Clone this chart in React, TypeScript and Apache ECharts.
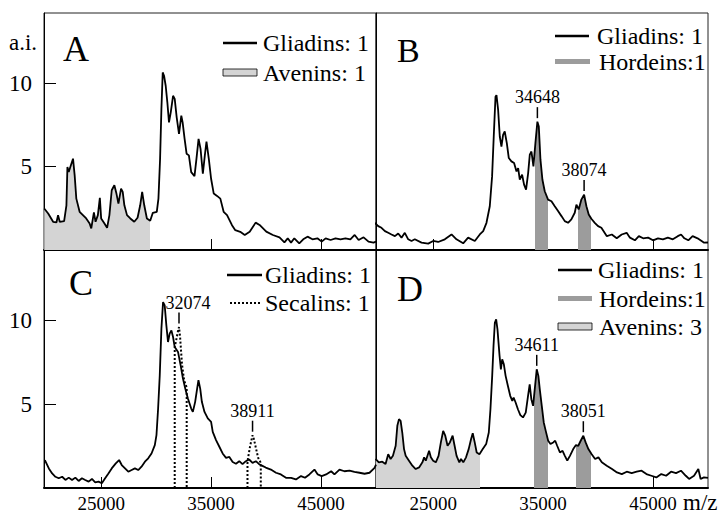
import { useEffect, useRef } from "react";
import * as echarts from "echarts";

const FONT = "serif";
const X_MIN = 19800;
const X_MAX = 50000;
const Y_MIN = 0;
const Y_MAX = 14.2;
const xTickValues = [25000, 35000, 45000];
const yTickValues = [5, 10];

// Panel A – Gliadins: 1 (m/z, a.i.)
const gliadinsA: [number, number][] = [
  [19820, 2.49], [20180, 2.19], [20630, 1.69], [20930, 1.65], [21080, 2.09], [21230, 1.69], [21630, 1.73],
  [21840, 2.68], [21930, 4.97], [22050, 4.67], [22290, 5.17], [22440, 5.47], [22590, 4.47], [22740, 3.08],
  [23040, 2.29], [23340, 2.09], [23640, 1.89], [23950, 1.59], [24100, 1.29], [24340, 2.25], [24490, 1.69],
  [24700, 2.09], [24880, 3.12], [25000, 1.89], [25300, 1.59], [25540, 1.33], [25750, 2.09], [25960, 3.58],
  [26200, 3.88], [26390, 3.38], [26570, 2.78], [26810, 3.68], [26960, 3.48], [27110, 2.68], [27350, 2.09],
  [27650, 1.89], [28010, 1.69], [28310, 1.93], [28550, 2.68], [28730, 3.48], [28920, 2.68], [29160, 1.89],
  [29460, 1.75], [29700, 2.23], [30060, 2.29], [30210, 3.08], [30360, 5.47], [30480, 8.45], [30600, 10.64],
  [30720, 10.44], [30870, 9.84], [31020, 8.85], [31170, 7.65], [31330, 8.25], [31540, 9.24], [31690, 9.05],
  [31870, 7.95], [32080, 6.96], [32290, 8.05], [32410, 7.65], [32590, 6.66], [32770, 5.77], [32980, 5.67],
  [33190, 4.67], [33490, 4.43], [33670, 5.47], [33860, 6.66], [34040, 6.06], [34250, 4.57], [34430, 5.67],
  [34580, 6.5], [34790, 5.47], [35000, 4.27], [35240, 3.38], [35540, 3.24], [35840, 3.08], [36140, 2.29],
  [36450, 2.09], [36900, 1.49], [37200, 1.19], [37650, 1.09], [38060, 0.9], [38510, 1.1], [39050, 1.64],
  [39410, 1.5], [40020, 1.1], [40620, 0.9], [41220, 0.76], [41670, 0.46], [41970, 0.7], [42270, 0.44],
  [42570, 0.7], [43020, 0.4], [43380, 0.64], [43770, 0.8], [44220, 0.64], [44670, 0.7], [45060, 0.5],
  [45420, 0.7], [45870, 0.6], [46320, 0.7], [46770, 0.64], [47220, 0.7], [47670, 0.64], [48060, 0.9],
  [48420, 0.6], [48870, 0.76], [49320, 0.5], [49770, 0.44], [50000, 0.5],
];

// Panel B – Gliadins: 1
const gliadinsB: [number, number][] = [
  [19700, 1.63], [20000, 1.43], [20300, 1.33], [20610, 1.13], [20910, 1.03], [21210, 0.93], [21520, 0.83],
  [21820, 0.99], [22120, 0.74], [22420, 1.03], [22730, 0.64], [23030, 0.54], [23330, 0.64], [23940, 0.44],
  [24550, 0.38], [25000, 0.54], [25450, 0.48], [26060, 0.64], [26670, 0.93], [27120, 0.64], [27730, 0.4],
  [28180, 0.74], [28790, 0.54], [29240, 0.93], [29550, 1.13], [29850, 1.63], [30150, 2.62], [30360, 4.41],
  [30510, 6.8], [30670, 9.18], [30760, 9.28], [30910, 8.39], [31060, 6.8], [31210, 6.2], [31360, 6.9],
  [31510, 7.1], [31700, 6.4], [31880, 5.51], [32120, 5.31], [32360, 5.21], [32580, 4.71], [32730, 4.91],
  [32880, 4.21], [33090, 4.51], [33270, 3.92], [33450, 3.62], [33640, 4.61], [33790, 5.71], [33940, 5.9],
  [34120, 5.01], [34300, 6.4], [34480, 7.69], [34610, 7.4], [34760, 5.41], [34940, 4.21], [35150, 3.52],
  [35450, 3.02], [35760, 2.92], [36060, 2.62], [36360, 2.33], [36670, 2.03], [36970, 1.73], [37270, 1.63],
  [37570, 1.83], [37880, 2.23], [38030, 2.72], [38240, 2.43], [38480, 3.02], [38730, 3.32], [38940, 2.62],
  [39150, 2.13], [39390, 1.87], [39700, 1.63], [40000, 1.43], [40300, 1.33], [40800, 0.83], [41250, 0.93],
  [41700, 0.7], [42150, 0.93], [42600, 1.03], [42900, 0.74], [43350, 0.58], [43710, 0.83], [44100, 0.7],
  [44550, 0.74], [45000, 0.58], [45450, 0.7], [45900, 0.64], [46350, 0.74], [46800, 0.64], [47250, 0.83],
  [47550, 0.93], [47850, 0.7], [48210, 0.58], [48600, 0.83], [49050, 0.7], [49650, 0.44], [50000, 0.45],
];

// Panel C – Gliadins: 1
const gliadinsC: [number, number][] = [
  [19880, 1.67], [20240, 1.17], [20540, 0.87], [20840, 0.67], [21140, 0.58], [21450, 0.67], [21750, 0.48],
  [22050, 0.62], [22350, 0.48], [22650, 0.62], [22950, 0.42], [23250, 0.58], [23550, 0.48], [23860, 0.38],
  [24160, 0.54], [24460, 0.34], [24760, 0.38], [25060, 0.28], [25360, 0.58], [25660, 0.87], [25960, 1.17],
  [26330, 1.47], [26630, 1.67], [26870, 1.37], [27170, 1.17], [27470, 0.97], [27770, 1.07], [28070, 1.17],
  [28370, 1.07], [28670, 1.27], [28980, 1.57], [29280, 1.77], [29580, 2.06], [29880, 2.56], [30030, 3.15],
  [30180, 4.74], [30330, 6.73], [30480, 9.5], [30630, 11.09], [30780, 10.89], [30930, 9.7], [31080, 8.71],
  [31230, 9.21], [31390, 9.4], [31540, 9.01], [31690, 8.41], [31990, 8.12], [32230, 7.32], [32440, 6.53],
  [32650, 5.93], [32890, 5.34], [33190, 4.74], [33340, 4.54], [33550, 5.14], [33730, 5.93], [33850, 6.43],
  [34010, 5.93], [34160, 5.14], [34400, 4.54], [34700, 4.15], [35000, 3.95], [35150, 3.35], [35450, 2.86],
  [35750, 2.46], [36050, 2.06], [36360, 1.8], [36660, 1.85], [36960, 1.55], [37260, 1.45], [37560, 1.6],
  [37860, 1.42], [38160, 1.6], [38460, 1.7], [38770, 1.5], [39070, 1.6], [39370, 1.42], [39670, 1.32],
  [39970, 1.22], [40440, 1.1], [40900, 0.91], [41350, 0.81], [41810, 0.61], [42270, 0.61], [42720, 0.51],
  [43180, 0.71], [43540, 0.61], [43940, 0.81], [44400, 1.1], [44700, 0.81], [45060, 0.71], [45460, 0.81],
  [45920, 1.0], [46220, 0.81], [46680, 1.1], [47130, 1.0], [47590, 1.04], [48040, 0.96], [48500, 0.91],
  [48960, 0.85], [49410, 0.91], [49870, 1.2], [50000, 1.4],
];

// Panel C – Secalins: 1 (dotted outlined windows)
const secalinsC1: [number, number][] = [
  [31690, 0], [31690, 8.4], [31850, 8.9], [32000, 9.4], [32080, 9.6], [32180, 9.0], [32350, 7.4],
  [32550, 6.4], [32780, 6.0], [32780, 0], [31690, 0],
];
const secalinsC2: [number, number][] = [
  [38310, 0], [38310, 1.6], [38550, 2.5], [38770, 3.15], [38900, 2.9], [39070, 2.4], [39280, 1.8],
  [39520, 1.5], [39520, 0], [38310, 0],
];

// Panel D – Gliadins: 1
const gliadinsD: [number, number][] = [
  [19760, 1.73], [20060, 1.53], [20370, 1.57], [20670, 1.43], [20910, 2.02], [21130, 1.73], [21340, 1.92],
  [21590, 2.52], [21740, 3.71], [21890, 4.11], [22040, 4.01], [22190, 3.31], [22350, 2.32], [22500, 1.92],
  [22800, 1.63], [23110, 1.33], [23410, 1.13], [23720, 1.23], [24020, 1.53], [24180, 1.83], [24330, 1.63],
  [24630, 2.22], [24790, 1.83], [25000, 1.63], [25240, 1.53], [25490, 1.92], [25700, 2.72], [25910, 3.41],
  [26100, 3.12], [26310, 2.52], [26520, 2.72], [26770, 3.12], [26950, 2.52], [27130, 1.92], [27380, 1.53],
  [27530, 1.73], [27740, 1.53], [27990, 1.83], [28230, 2.32], [28450, 2.92], [28600, 3.27], [28780, 2.72],
  [28960, 2.12], [29210, 2.02], [29510, 2.32], [29820, 2.62], [30060, 3.31], [30210, 4.7], [30370, 6.69],
  [30490, 8.47], [30610, 9.86], [30730, 10.06], [30850, 9.46], [31040, 7.88], [31160, 7.08], [31280, 7.68],
  [31430, 7.38], [31590, 6.69], [31800, 6.09], [32010, 5.5], [32200, 5.2], [32320, 5.4], [32500, 5.1],
  [32710, 4.7], [32930, 4.35], [33170, 4.21], [33420, 4.5], [33630, 5.5], [33780, 6.19], [33930, 5.3],
  [34090, 4.9], [34270, 6.09], [34420, 7.08], [34570, 6.69], [34700, 5.89], [34880, 4.9], [35060, 3.91],
  [35240, 3.41], [35460, 2.82], [35670, 2.62], [35920, 2.72], [36100, 2.82], [36280, 2.52], [36530, 2.12],
  [36770, 2.22], [36980, 1.92], [37200, 1.63], [37440, 1.92], [37740, 2.32], [37990, 2.56], [38200, 2.52],
  [38420, 2.82], [38660, 3.12], [38870, 2.72], [39120, 2.32], [39420, 2.02], [39730, 1.73], [40030, 1.83],
  [40340, 1.53], [40790, 1.33], [41270, 1.13], [41720, 0.93], [42160, 0.83], [42610, 0.97], [43060, 0.89],
  [43510, 0.97], [43960, 1.03], [44400, 0.83], [44850, 0.73], [45300, 0.63], [45750, 0.83], [46190, 0.73],
  [46640, 0.97], [47090, 0.89], [47540, 1.03], [47980, 0.73], [48280, 0.54], [48730, 0.73], [49120, 1.13],
  [49330, 0.54], [49630, 0.63], [50000, 0.6],
];

// Shaded m/z windows (Avenins / Hordeins)
const aveninsWindowA: [number, number] = [19800, 29400];
const hordeinsWindowsB: [number, number][] = [[34240, 35450], [38180, 39390]];
const aveninsWindowD: [number, number] = [19800, 29300];
const hordeinsWindowsD: [number, number][] = [[34150, 35460], [37990, 39330]];

// Peak annotations
const peaksB = [
  { name: "34648", coord: [34480, 7.69] },
  { name: "38074", coord: [38730, 3.32] },
];
const peaksC = [
  { name: "32074", coord: [32080, 9.6], shift: 9 },
  { name: "38911", coord: [38770, 3.15], shift: 0 },
];
const peaksD = [
  { name: "34611", coord: [34420, 7.08] },
  { name: "38051", coord: [38660, 3.12] },
];

const panelLetters = ["A", "B", "C", "D"];
const AVEN = "#d4d4d4";
const HORD = "#9c9c9c";

function App() {
  const ref = useRef<HTMLDivElement>(null);

  useEffect(() => {
    if (!ref.current) return;
    document.body.style.margin = "0";
    const chart = echarts.init(ref.current, undefined, { renderer: "svg" });

    const grids = [
      { left: 44, top: 13, width: 332, height: 237 },
      { left: 376, top: 13, width: 332, height: 237 },
      { left: 44, top: 250, width: 332, height: 239 },
      { left: 376, top: 250, width: 332, height: 239 },
    ].map((g) => ({ ...g, show: true, borderColor: "#222", borderWidth: 1, backgroundColor: "transparent" }));

    const xAxes = grids.map((_, i) => ({
      type: "value",
      gridIndex: i,
      min: X_MIN,
      max: X_MAX,
      axisLine: { show: true, onZero: false, lineStyle: { color: "#000", width: 2 } },
      axisTick: { show: true, inside: true, length: 11, customValues: xTickValues, lineStyle: { color: "#000", width: 1 } },
      axisLabel: {
        show: i >= 2,
        customValues: xTickValues,
        formatter: (v: number) => String(v),
        color: "#000",
        fontFamily: FONT,
        fontSize: 19,
        margin: 6,
      },
      splitLine: { show: false },
    }));

    const yAxes = grids.map((_, i) => {
      const left = i % 2 === 0;
      return {
        type: "value",
        gridIndex: i,
        min: Y_MIN,
        max: Y_MAX,
        axisLine: { show: true, lineStyle: { color: "#000", width: 1 } },
        axisTick: { show: left, inside: true, length: 12, customValues: yTickValues, lineStyle: { color: "#000", width: 1 } },
        axisLabel: {
          show: left,
          customValues: yTickValues,
          color: "#000",
          fontFamily: FONT,
          fontSize: 23,
          margin: 12,
        },
        splitLine: { show: false },
      };
    });

    const series: any[] = [];
    const visualMaps: any[] = [];

    const addFill = (panel: number, data: [number, number][], windows: { range: [number, number]; color: string }[]) => {
      const idx = series.length;
      series.push({
        type: "line",
        xAxisIndex: panel,
        yAxisIndex: panel,
        data,
        symbol: "none",
        silent: true,
        z: 1,
        lineStyle: { width: 0, opacity: 0 },
        areaStyle: { opacity: 1 },
      });
      visualMaps.push({
        type: "piecewise",
        show: false,
        dimension: 0,
        seriesIndex: idx,
        pieces: windows.map((w) => ({ gte: w.range[0], lte: w.range[1], color: w.color })),
        outOfRange: { color: "rgba(0,0,0,0)" },
      });
    };

    const markLabels = (peaks: { name: string; coord: number[]; shift?: number }[]) => ({
      symbol: "rect",
      symbolSize: [1.5, 11],
      symbolOffset: [0, -9],
      silent: true,
      itemStyle: { color: "#000" },
      label: {
        show: true,
        position: "top",
        distance: 1,
        color: "#000",
        fontFamily: FONT,
        fontSize: 18,
        formatter: (p: any) => p.name,
      },
      data: peaks.map((p) => ({
        name: p.name,
        coord: p.coord,
        label: p.shift ? { offset: [p.shift, 0] } : undefined,
      })),
    });

    const addLine = (panel: number, data: [number, number][], peaks?: any[]) => {
      series.push({
        type: "line",
        name: "Gliadins: 1",
        xAxisIndex: panel,
        yAxisIndex: panel,
        data,
        symbol: "none",
        z: 3,
        lineStyle: { color: "#000", width: 1.8 },
        markPoint: peaks ? markLabels(peaks) : undefined,
      });
    };

    // A
    addFill(0, gliadinsA, [{ range: aveninsWindowA, color: AVEN }]);
    addLine(0, gliadinsA);
    // B
    addFill(1, gliadinsB, hordeinsWindowsB.map((r) => ({ range: r, color: HORD })));
    addLine(1, gliadinsB, peaksB);
    // C
    addLine(2, gliadinsC, peaksC);
    [secalinsC1, secalinsC2].forEach((d) =>
      series.push({
        type: "line",
        name: "Secalins: 1",
        xAxisIndex: 2,
        yAxisIndex: 2,
        data: d,
        symbol: "none",
        z: 4,
        lineStyle: { color: "#000", width: 2, type: [2, 2] },
      })
    );
    // D
    addFill(3, gliadinsD, [
      { range: aveninsWindowD, color: AVEN },
      ...hordeinsWindowsD.map((r) => ({ range: r, color: HORD })),
    ]);
    addLine(3, gliadinsD, peaksD);

    const txt = (text: string, x: number, y: number, size: number, align = "left") => ({
      type: "text",
      x,
      y,
      silent: true,
      style: {
        text,
        fill: "#000",
        fontFamily: FONT,
        fontSize: size,
        textAlign: align,
        textVerticalAlign: "middle",
        align,
        verticalAlign: "middle",
      },
    });
    const lineSym = (x1: number, x2: number, y: number, dotted = false) => ({
      type: "line",
      silent: true,
      shape: { x1, y1: y, x2, y2: y },
      style: { stroke: "#000", lineWidth: dotted ? 2 : 2.5, lineDash: dotted ? [2, 2] : null },
    });
    const rectSym = (x: number, y: number, w: number, h: number, fill: string, outline: boolean) => ({
      type: "rect",
      silent: true,
      shape: { x, y, width: w, height: h },
      style: { fill, stroke: outline ? "#000" : null, lineWidth: outline ? 0.8 : 0 },
    });

    const graphic = [
      txt("a.i.", 9, 42, 23),
      txt(panelLetters[0], 63, 49, 36),
      txt(panelLetters[1], 397, 50, 34),
      txt(panelLetters[2], 69, 283, 36),
      txt(panelLetters[3], 397, 289, 36),
      // A legend
      lineSym(223, 257, 43),
      txt("Gliadins: 1", 263, 43, 24),
      rectSym(223, 69, 34, 7, AVEN, true),
      txt("Avenins: 1", 263, 73, 24),
      // B legend
      lineSym(555, 589, 36),
      txt("Gliadins: 1", 597, 36, 24),
      rectSym(555, 59, 35, 5, HORD, false),
      txt("Hordeins:1", 599, 62, 24),
      // C legend
      lineSym(227, 262, 275),
      txt("Gliadins: 1", 265, 275, 24),
      lineSym(230, 262, 303, true),
      txt("Secalins: 1", 265, 303, 24),
      // D legend
      lineSym(558, 592, 270),
      txt("Gliadins: 1", 598, 270, 24),
      rectSym(558, 296, 34, 5, HORD, false),
      txt("Hordeins:1", 599, 299, 24),
      rectSym(558, 323, 34, 7, AVEN, true),
      txt("Avenins: 3", 599, 327, 24),
      // axis unit
      txt("m/z", 683, 502, 23),
    ];

    chart.setOption({
      animation: false,
      backgroundColor: "#fff",
      grid: grids,
      xAxis: xAxes,
      yAxis: yAxes,
      visualMap: visualMaps,
      series,
      graphic,
    });

    return () => chart.dispose();
  }, []);

  return <div ref={ref} style={{ position: "fixed", left: 0, top: 0, width: 728, height: 513, background: "#fff" }} />;
}

export default App;
